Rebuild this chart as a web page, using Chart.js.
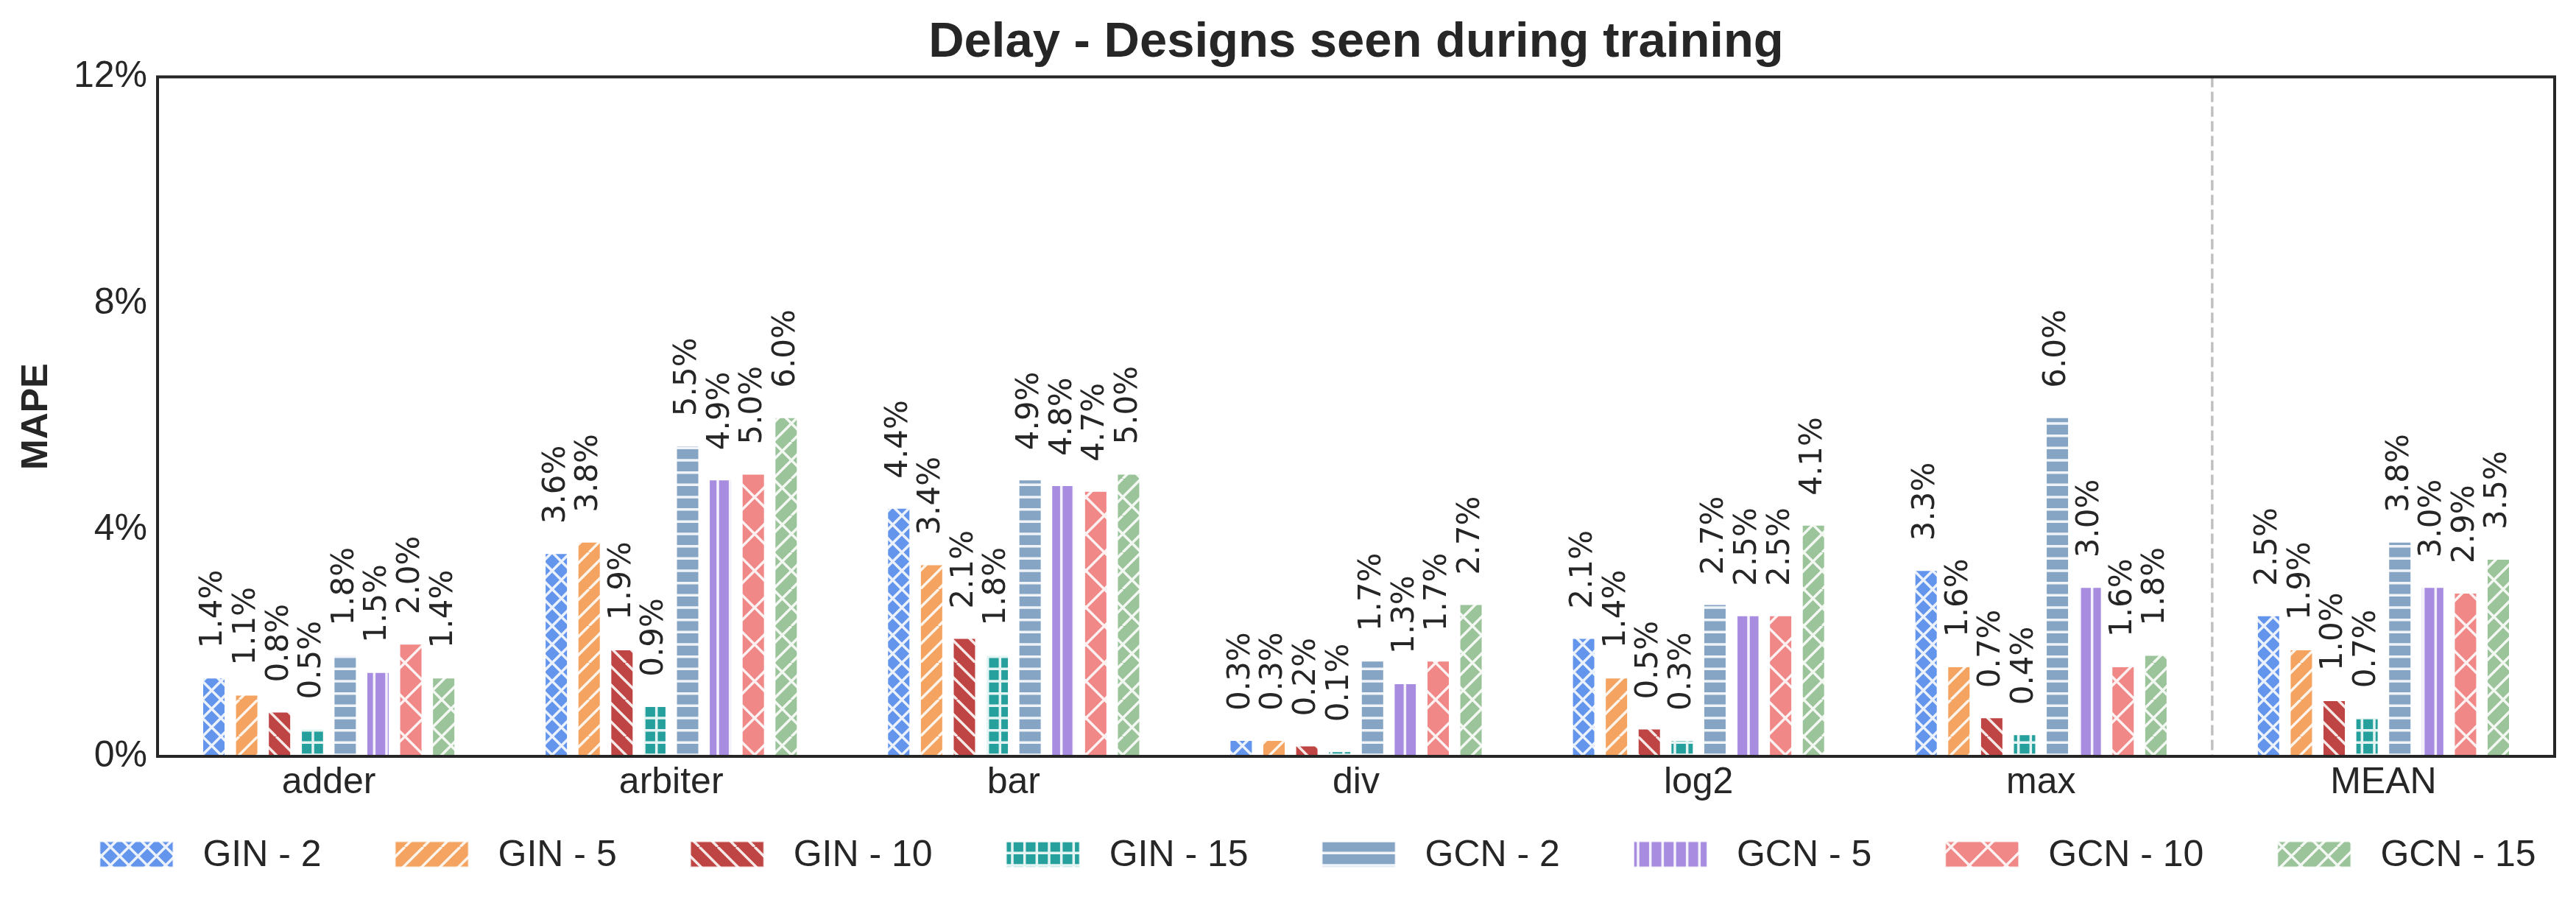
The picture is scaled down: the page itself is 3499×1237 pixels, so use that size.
<!DOCTYPE html>
<html>
<head>
<meta charset="utf-8">
<script src="https://cdn.jsdelivr.net/npm/chart.js@4.4.1/dist/chart.umd.min.js"></script>
<style>
    html, body { margin: 0; padding: 0; background: #fff; }
    #wrap { width: 3499px; height: 1237px; }
</style>
</head>
<body>
<div id="wrap"><canvas id="delayChart" width="3499" height="1237"></canvas></div>
<script>
// ============ Data ============
const categories = ['adder', 'arbiter', 'bar', 'div', 'log2', 'max', 'MEAN'];
const seriesNames = ['GIN - 2', 'GIN - 5', 'GIN - 10', 'GIN - 15', 'GCN - 2', 'GCN - 5', 'GCN - 10', 'GCN - 15'];
const gin2  = [1.4, 3.6, 4.4, 0.3, 2.1, 3.3, 2.5];
const gin5  = [1.1, 3.8, 3.4, 0.3, 1.4, 1.6, 1.9];
const gin10 = [0.8, 1.9, 2.1, 0.2, 0.5, 0.7, 1.0];
const gin15 = [0.5, 0.9, 1.8, 0.1, 0.3, 0.4, 0.7];
const gcn2  = [1.8, 5.5, 4.9, 1.7, 2.7, 6.0, 3.8];
const gcn5  = [1.5, 4.9, 4.8, 1.3, 2.5, 3.0, 3.0];
const gcn10 = [2.0, 5.0, 4.7, 1.7, 2.5, 1.6, 2.9];
const gcn15 = [1.4, 6.0, 5.0, 2.7, 4.1, 1.8, 3.5];
const yTicks = [0, 4, 8, 12];

const seriesValues = [gin2, gin5, gin10, gin15, gcn2, gcn5, gcn10, gcn15];

// ============ Styles ============
const TEXT = '#262626';
const colors = ['#6495ED', '#F4A460', '#BF4545', '#26A09C', '#86A4C3', '#A78CE0', '#F08888', '#9BC49B'];
// hatch line counts per 50px tile: ne '/', nw '\', h '-', v '|'
const hatches = [
    { ne: 2, nw: 2 },
    { ne: 2 },
    { nw: 2 },
    { h: 3, v: 3 },
    { h: 3 },
    { v: 3 },
    { ne: 1, nw: 1 },
    { ne: 2, nw: 1 }
];

function makeHatch(color, spec) {
    const T = 50;
    const c = document.createElement('canvas');
    c.width = T; c.height = T;
    const g = c.getContext('2d');
    g.fillStyle = color;
    g.fillRect(0, 0, T, T);
    g.strokeStyle = 'rgba(255,255,255,0.88)';
    g.lineWidth = 3.5;
    g.beginPath();
    if (spec.ne) {
        const s = T / spec.ne;
        for (let o = -T; o <= T; o += s) { g.moveTo(o, T); g.lineTo(o + T, 0); }
    }
    if (spec.nw) {
        const s = T / spec.nw;
        for (let o = -T; o <= T; o += s) { g.moveTo(o, 0); g.lineTo(o + T, T); }
    }
    if (spec.h) {
        const s = T / spec.h;
        for (let y = s / 2; y < T; y += s) { g.moveTo(0, y); g.lineTo(T, y); }
    }
    if (spec.v) {
        const s = T / spec.v;
        for (let x = s / 2; x < T; x += s) { g.moveTo(x, 0); g.lineTo(x, T); }
    }
    g.stroke();
    return g.createPattern(c, 'repeat');
}

const patterns = colors.map((c, i) => makeHatch(c, hatches[i]));
const EDGE = 'rgba(255,255,255,0.75)';

// ============ Plugins ============
const valueLabels = {
    id: 'valueLabels',
    afterDatasetsDraw(chart) {
        const ctx = chart.ctx;
        ctx.save();
        ctx.font = '42px "DejaVu Sans"';
        ctx.fillStyle = TEXT;
        ctx.textAlign = 'left';
        ctx.textBaseline = 'middle';
        chart.data.datasets.forEach((ds, i) => {
            chart.getDatasetMeta(i).data.forEach((bar, j) => {
                ctx.save();
                ctx.translate(bar.x, bar.y - 39);
                ctx.rotate(-Math.PI / 2);
                ctx.fillText(ds.data[j].toFixed(1) + '%', 0, 0);
                ctx.restore();
            });
        });
        ctx.restore();
    }
};

const separator = {
    id: 'separator',
    beforeDatasetsDraw(chart) {
        const { ctx, chartArea } = chart;
        const xs = chart.scales.x;
        const x = (xs.getPixelForValue(categories.length - 2) + xs.getPixelForValue(categories.length - 1)) / 2;
        ctx.save();
        ctx.strokeStyle = '#c0c0c0';
        ctx.lineWidth = 3.5;
        ctx.setLineDash([14, 6]);
        ctx.beginPath();
        ctx.moveTo(x, chartArea.top);
        ctx.lineTo(x, chartArea.bottom);
        ctx.stroke();
        ctx.restore();
    }
};

const frameAndLegend = {
    id: 'frameAndLegend',
    afterDraw(chart) {
        const { ctx, chartArea } = chart;
        ctx.save();
        // axes frame
        ctx.strokeStyle = TEXT;
        ctx.lineWidth = 4;
        ctx.strokeRect(chartArea.left, chartArea.top, chartArea.right - chartArea.left, chartArea.bottom - chartArea.top);

        // legend row
        const handleW = 100, handleH = 35, textPad = 40, colSpace = 100;
        const legendCenterX = 1790, legendY = 1160;
        ctx.font = '50px "Liberation Sans"';
        const widths = seriesNames.map((n) => ctx.measureText(n).width);
        const total = widths.reduce((a, w) => a + handleW + textPad + w, 0) + colSpace * (seriesNames.length - 1);
        let x = legendCenterX - total / 2;
        ctx.textAlign = 'left';
        ctx.textBaseline = 'middle';
        seriesNames.forEach((name, i) => {
            ctx.fillStyle = patterns[i];
            ctx.fillRect(x, legendY - handleH / 2, handleW, handleH);
            ctx.strokeStyle = EDGE;
            ctx.lineWidth = 2;
            ctx.strokeRect(x, legendY - handleH / 2, handleW, handleH);
            ctx.fillStyle = TEXT;
            ctx.fillText(name, x + handleW + textPad, legendY + 2);
            x += handleW + textPad + widths[i] + colSpace;
        });
        ctx.restore();
    }
};

// ============ Chart ============
new Chart(document.getElementById('delayChart'), {
    type: 'bar',
    data: {
        labels: categories,
        datasets: seriesNames.map((name, i) => ({
            label: name,
            data: seriesValues[i],
            backgroundColor: patterns[i],
            borderColor: EDGE,
            borderWidth: 2,
            borderSkipped: 'start',
            categoryPercentage: 0.767,
            barPercentage: 0.74
        }))
    },
    options: {
        responsive: false,
        animation: false,
        devicePixelRatio: 1,
        layout: { padding: { left: 0, right: 29, top: 0, bottom: 0 } },
        plugins: {
            legend: { display: false },
            tooltip: { enabled: false },
            title: {
                display: true,
                fullSize: false,
                text: 'Delay - Designs seen during training',
                color: TEXT,
                font: { family: 'Liberation Sans', size: 67, weight: 'bold', lineHeight: 1.2 },
                padding: { top: 18, bottom: 6 }
            }
        },
        scales: {
            x: {
                offset: true,
                grid: { display: false, drawTicks: false },
                border: { display: false },
                ticks: { color: TEXT, font: { family: 'Liberation Sans', size: 50 }, padding: 6 },
                afterFit: (s) => { s.height = 210; }
            },
            y: {
                min: 0,
                max: 12,
                grid: { display: false, drawTicks: false },
                border: { display: false },
                afterBuildTicks: (s) => { s.ticks = yTicks.map((v) => ({ value: v })); },
                ticks: {
                    color: TEXT,
                    font: { family: 'Liberation Sans', size: 50 },
                    padding: 14,
                    callback: (v) => v + '%'
                },
                title: {
                    display: true,
                    text: 'MAPE',
                    color: TEXT,
                    font: { family: 'Liberation Sans', size: 50, weight: 'bold' },
                    padding: { top: 20, bottom: 0 }
                },
                afterFit: (s) => { s.width = 214; }
            }
        }
    },
    plugins: [separator, valueLabels, frameAndLegend]
});
</script>
</body>
</html>
